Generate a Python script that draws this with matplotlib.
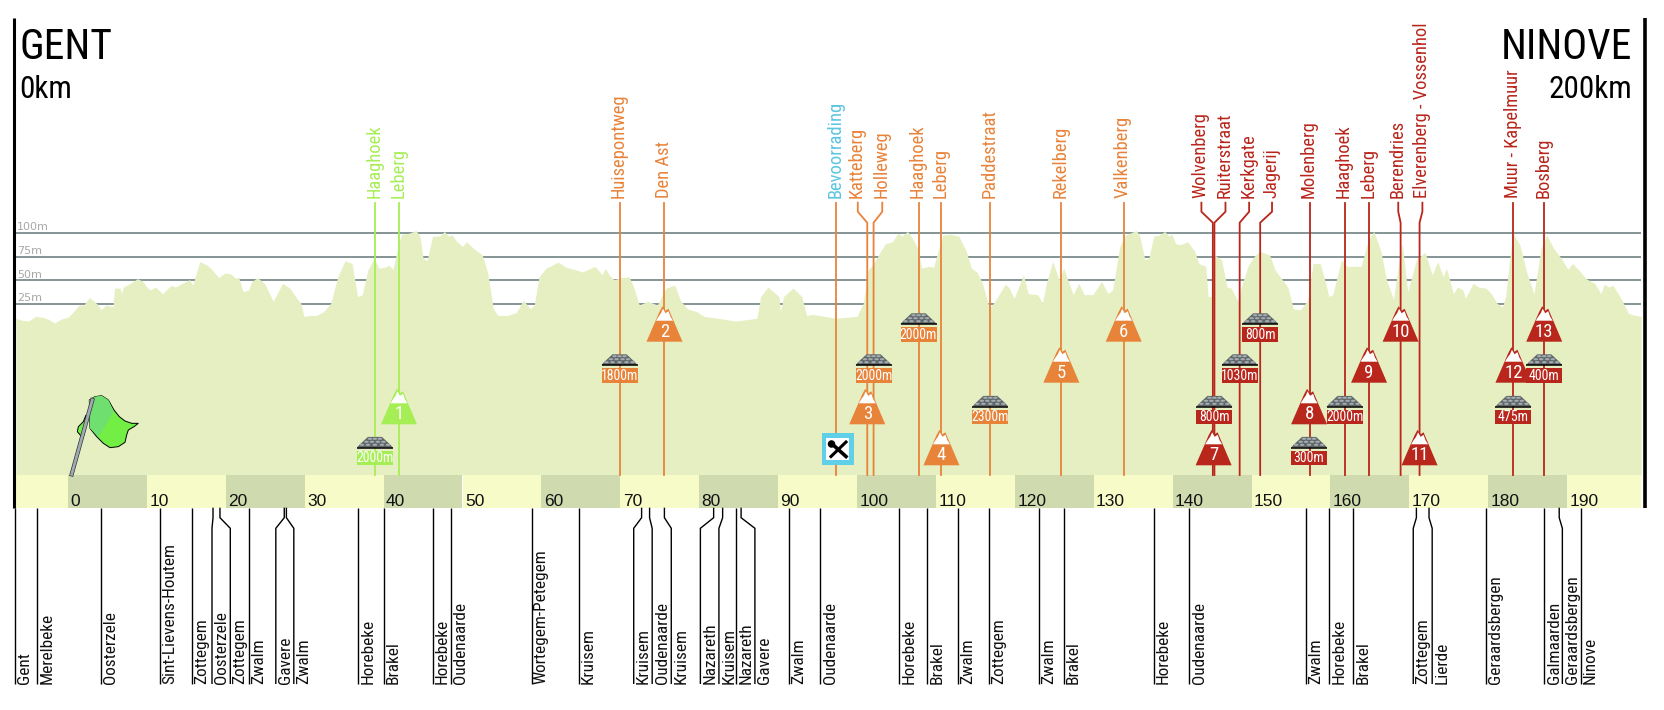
import matplotlib
matplotlib.use('Agg')
import matplotlib.pyplot as plt
from matplotlib.patches import Polygon, Rectangle, Ellipse

# elevation profile, km along the route and height in metres
prof_km = [-6.6, -5.9, -5.0, -4.1, -3.2, -2.5, -1.7, -0.9, 0, 0.7, 1.4, 2.0, 2.7, 3.3, 3.7, 4.2, 4.8, 5.7, 5.9, 6.6,
           6.8, 7.0, 7.9, 8.8, 9.5, 10.0, 10.4, 11.1, 12.0, 12.7, 13.1, 13.6, 14.5, 15.4, 15.8, 16.7, 17.7, 18.3, 19.1, 19.9,
           20.6, 21.3, 21.6, 22.2, 22.9, 23.3, 24.0, 24.9, 25.6, 26.0, 27.2, 28.1, 29.0, 29.5, 29.9, 30.8, 31.5, 32.4, 33.3, 34.2,
           35.1, 36.0, 36.7, 37.3, 38.0, 38.8, 39.4, 40.1, 40.7, 41.2, 41.9, 42.3, 43.2, 44.1, 44.6, 45.0, 45.5, 46.2, 47.1, 47.7,
           48.2, 48.7, 49.3, 50.0, 50.5, 51.4, 52.5, 53.2, 53.9, 54.5, 55.7, 56.8, 57.7, 58.6, 59.1, 59.7, 60.6, 62.0, 62.2, 63.1,
           64.5, 65.2, 66.8, 67.7, 68.1, 68.6, 69.2, 70.2, 71.1, 71.7, 72.4, 73.5, 74.7, 75.4, 75.8, 76.9, 77.6, 78.5, 79.7, 80.6,
           82.4, 84.6, 87.3, 87.8, 88.7, 90.1, 90.3, 90.7, 91.9, 93.0, 93.6, 94.4, 95.9, 97.3, 100.0, 100.8, 101.4, 102.1, 103.0, 103.6,
           104.5, 105.2, 105.7, 106.4, 107.0, 107.7, 108.2, 109.1, 109.7, 110.2, 110.9, 111.8, 112.9, 113.8, 114.5, 115.2, 115.9, 116.8, 117.7, 118.8,
           119.3, 119.9, 121.1, 121.7, 122.9, 123.5, 124.0, 124.8, 125.6, 126.2, 126.7, 127.4, 128.1, 128.8, 129.9, 131.0, 131.8, 132.4, 133.3, 134.0,
           135.4, 135.8, 136.5, 137.0, 137.6, 138.3, 139.0, 139.5, 139.9, 140.4, 141.0, 141.9, 142.8, 143.3, 144.2, 144.5, 144.9, 145.3, 146.2, 146.9,
           147.4, 148.3, 148.7, 149.6, 150.3, 151.0, 152.3, 153.0, 154.6, 155.3, 156.2, 157.1, 157.8, 158.7, 159.4, 159.8, 160.3, 161.4, 162.1, 163.9,
           164.8, 165.5, 166.4, 167.1, 168.0, 168.6, 169.1, 169.8, 170.9, 172.0, 172.9, 173.6, 174.3, 174.7, 175.6, 176.1, 176.8, 177.1, 178.1, 178.8,
           179.7, 180.4, 181.1, 181.8, 182.2, 183.1, 184.0, 184.9, 185.8, 186.7, 187.4, 188.3, 189.2, 190.1, 190.7, 191.7, 192.4, 193.5, 194.3, 194.7,
           195.3, 195.8, 196.7, 197.8, 198.7, 199.4]
prof_m = [10, 8, 7, 12, 11, 9, 5, 9, 11, 17, 24, 24, 32, 28, 25, 19, 24, 22, 42, 42,
          36, 43, 47, 52, 49, 43, 40, 43, 36, 42, 45, 43, 47, 51, 45, 70, 66, 61, 53, 58,
          57, 52, 54, 38, 40, 49, 53, 47, 35, 28, 47, 42, 31, 26, 12, 13, 13, 17, 26, 54,
          71, 68, 33, 35, 61, 74, 63, 64, 66, 62, 89, 99, 100, 103, 97, 74, 71, 97, 97, 102,
          97, 98, 91, 86, 91, 84, 77, 58, 20, 13, 13, 16, 29, 20, 24, 54, 63, 69, 69, 64,
          61, 59, 65, 56, 63, 56, 51, 53, 54, 43, 24, 28, 24, 36, 42, 45, 29, 20, 17, 12,
          10, 7, 10, 33, 43, 33, 17, 33, 42, 33, 13, 14, 12, 10, 12, 26, 61, 68, 81, 89,
          91, 100, 97, 102, 95, 84, 63, 65, 64, 79, 98, 99, 97, 82, 63, 59, 47, 20, 31, 46,
          42, 31, 56, 36, 35, 26, 47, 70, 51, 63, 51, 35, 47, 35, 35, 49, 36, 40, 86, 98,
          103, 98, 72, 74, 97, 98, 102, 97, 99, 89, 88, 91, 81, 68, 65, 33, 33, 77, 72, 43,
          42, 28, 43, 66, 75, 81, 77, 61, 43, 20, 19, 29, 68, 68, 47, 33, 35, 72, 65, 65,
          93, 102, 81, 51, 30, 65, 89, 38, 72, 80, 56, 70, 54, 63, 36, 43, 40, 31, 47, 43,
          42, 36, 26, 22, 33, 100, 88, 58, 36, 84, 98, 84, 74, 62, 68, 59, 52, 47, 36, 46,
          43, 45, 33, 15, 13, 12]

grid_m = [25, 50, 75, 100]
grid_labels = ['25m', '50m', '75m', '100m']
km_ticks = list(range(0, 200, 10))

# climbs and cobbles: name, km of the label, km of the line
green_names = ['Haaghoek', 'Leberg']
green_label_km = [38.9, 41.95]
green_line_km = [38.9, 41.95]
orange_names = ['Huisepontweg', 'Den Ast', 'Katteberg', 'Holleweg', 'Haaghoek', 'Leberg', 'Paddestraat', 'Rekelberg', 'Valkenberg']
orange_label_km = [69.9, 75.6, 100.1, 103.2, 107.8, 110.7, 116.9, 125.9, 133.8]
orange_line_km = [69.9, 75.6, 101.3, 102.1, 107.8, 110.7, 116.9, 125.9, 133.8]
red_names = ['Wolvenberg', 'Ruiterstraat', 'Kerkgate', 'Jagerij', 'Molenberg', 'Haaghoek', 'Leberg', 'Berendries',
             'Elverenberg - Vossenhol', 'Muur - Kapelmuur', 'Bosberg']
red_label_km = [143.65, 146.7, 149.7, 152.6, 157.4, 161.8, 164.9, 168.6, 171.66, 183.2, 187.1]
red_line_km = [145.1, 145.3, 148.5, 151.1, 157.4, 161.8, 164.9, 168.9, 171.3, 183.2, 187.1]
feed_name = 'Bevoorrading'
feed_km = 97.4

climb_km = [41.95, 75.6, 101.3, 110.7, 125.9, 133.8, 145.2, 157.3, 164.9, 168.9, 171.3, 183.2, 187.1]
climb_row = [2, 0, 2, 3, 1, 0, 3, 2, 1, 0, 3, 1, 0]
climb_group = ['g', 'o', 'o', 'o', 'o', 'o', 'r', 'r', 'r', 'r', 'r', 'r', 'r']

cobble_km = [38.9, 69.9, 102.1, 107.8, 116.9, 145.3, 148.5, 151.1, 157.3, 161.8, 183.2, 187.1]
cobble_row = [3, 1, 1, 0, 2, 2, 1, 0, 3, 2, 2, 1]
cobble_len = ['2000m', '1800m', '2000m', '2000m', '2300m', '800m', '1030m', '800m', '300m', '2000m', '475m', '400m']
cobble_group = ['g', 'o', 'o', 'o', 'o', 'r', 'r', 'r', 'r', 'r', 'r', 'r']

# towns under the route, km at the band and km at the label
town_names = ['Gent', 'Merelbeke', 'Oosterzele', 'Sint-Lievens-Houtem', 'Zottegem', 'Oosterzele', 'Zottegem', 'Zwalm',
              'Gavere', 'Zwalm', 'Horebeke', 'Brakel', 'Horebeke', 'Oudenaarde', 'Wortegem-Petegem', 'Kruisem',
              'Kruisem', 'Oudenaarde', 'Kruisem', 'Nazareth', 'Kruisem', 'Nazareth', 'Gavere', 'Zwalm', 'Oudenaarde',
              'Horebeke', 'Brakel', 'Zwalm', 'Zottegem', 'Zwalm', 'Brakel', 'Horebeke', 'Oudenaarde', 'Zwalm',
              'Horebeke', 'Brakel', 'Zottegem', 'Lierde', 'Geraardsbergen', 'Galmaarden', 'Geraardsbergen', 'Ninove']
town_top_km = [-6.74, -3.93, 4.13, 11.66, 15.72, 18.38, 19.26, 22.92, 27.41, 27.68, 36.81, 40.02, 46.2, 48.48, 58.75, 64.71,
               72.7, 73.71, 75.59, 81.83, 82.97, 84.71, 85.31, 91.36, 95.37, 105.3, 108.9, 112.8, 116.7, 123.1, 126.2,
               137.6, 142.1, 156.9, 159.8, 162.9, 170.9, 172.5, 179.7, 187.1, 189.0, 191.7]
town_low_km = [-6.74, -3.93, 4.13, 11.66, 15.72, 18.25, 20.57, 22.92, 26.34, 28.62, 36.81, 40.02, 46.2, 48.48, 58.75, 64.71,
               71.7, 74.04, 76.46, 80.15, 82.5, 84.71, 87.06, 91.36, 95.37, 105.3, 108.9, 112.8, 116.7, 123.1, 126.2,
               137.6, 142.1, 156.9, 159.8, 162.9, 170.5, 172.9, 179.7, 187.1, 189.4, 191.7]

GREEN, ORANGE, RED = '#A6EE55', '#E8833A', '#B8261C'
colors = {'g': GREEN, 'o': ORANGE, 'r': RED}
NARROW = ['Roboto Condensed', 'Liberation Sans', 'DejaVu Sans']

W, H = 1664, 710
X0, PX_KM = 68.0, 7.89    # pixel of km 0, pixels per km
Y0, PX_M = 327.7, 0.944   # pixel of 0 m, pixels per metre


def kx(px):
    return (px - X0) / PX_KM


def me(py):
    return (Y0 - py) / PX_M


fig = plt.figure(figsize=(W / 100, H / 100), dpi=100)
ax = fig.add_axes([0, 0, 1, 1])
ax.set_xlim(kx(0), kx(W))
ax.set_ylim(me(H), me(0))
ax.axis('off')

band_top, band_low = me(475), me(507.7)
left_km, right_km = kx(16), kx(1641)
row_base = [341.7, 382.7, 424.3, 465.3]

# height grid and profile
ax.hlines(grid_m, left_km, right_km, color='#7B8C8C', lw=1.3, zorder=1)
for m, lab in zip(grid_m, grid_labels):
    ax.text(kx(17), m + 1, lab, fontsize=8, color='#A8A8A8', ha='left', va='bottom', zorder=1, family='DejaVu Sans')
ax.fill_between(prof_km, prof_m, band_top, color='#E5EFC1', lw=0, zorder=2)

# km band
ax.bar([left_km], band_low - band_top, km_ticks[0] - left_km, band_top, align='edge', color='#F6FBC8', zorder=3)
for k in km_ticks:
    c = '#CFDAAE' if k % 20 == 0 else '#F6FBC8'
    end = min(k + 10, right_km)
    ax.bar([k], band_low - band_top, end - k, band_top, align='edge', color=c, zorder=3)
    ax.text(k + 0.3, me(505.5), str(k), fontsize=12.5, ha='left', va='baseline', color='#111111',
            family='Liberation Sans', zorder=4)

# side bars and start/finish
ax.plot([kx(14), kx(14)], [me(18), band_low], color='black', lw=2.2, solid_capstyle='butt', zorder=6)
ax.plot([kx(1645), kx(1645)], [me(18), band_low], color='black', lw=2.6, solid_capstyle='butt', zorder=6)
ax.text(kx(20), me(59), 'GENT', fontsize=30, family=NARROW, ha='left', va='baseline', color='black')
ax.text(kx(19), me(98), '0km', fontsize=22.5, family=NARROW, ha='left', va='baseline', color='black')
ax.text(kx(1632), me(59), 'NINOVE', fontsize=30, family=NARROW, ha='right', va='baseline', color='black')
ax.text(kx(1632), me(98), '200km', fontsize=22.5, family=NARROW, ha='right', va='baseline', color='black')


def climb_line(label_km, line_km, color, name, txt_color=None):
    ys = [me(202.7), me(211.7), me(222.7), band_top]
    ax.plot([label_km, label_km, line_km, line_km], ys, color=color, lw=1.3, zorder=4, solid_joinstyle='miter')
    ax.text(label_km - 0.1, me(198), name, rotation=90, fontsize=13.3, family=NARROW, ha='center', va='bottom',
            color=txt_color or color, zorder=6)


for n, a, b in zip(green_names, green_label_km, green_line_km):
    climb_line(a, b, GREEN, n)
for n, a, b in zip(orange_names, orange_label_km, orange_line_km):
    climb_line(a, b, ORANGE, n)
for n, a, b in zip(red_names, red_label_km, red_line_km):
    climb_line(a, b, RED, n)
climb_line(feed_km, feed_km, ORANGE, feed_name, '#5BC5DF')


def mountain(km, row, color, num):
    cx = X0 + km * PX_KM
    base = row_base[row]
    outer = [(-18, 0), (-5, 30), (-2, 35.5), (1, 31), (4, 33), (6.5, 27), (18, 0)]
    cap = [(-8.5, 21), (-6, 25), (-3.5, 28.5), (-1.5, 33), (1, 28.5), (4, 30.5), (6, 25), (8.5, 21)]
    ax.add_patch(Polygon([(kx(cx + x), me(base - y)) for x, y in outer], fc=color, ec='none', zorder=5))
    ax.add_patch(Polygon([(kx(cx + x), me(base - y)) for x, y in cap], fc='white', ec='none', zorder=5))
    ax.text(kx(cx), me(base - 10), str(num), fontsize=13.5, color='white', family=NARROW, ha='center', va='center', zorder=6)


def cobbles(km, row, color, length):
    cx = X0 + km * PX_KM
    base = row_base[row]
    ax.add_patch(Rectangle((kx(cx - 18), me(base)), 36 / PX_KM, 14.4 / PX_M, fc=color, ec='none', zorder=5))
    ax.text(kx(cx), me(base - 7), length, fontsize=10, color='white', family=NARROW, ha='center', va='center', zorder=6)
    dome = [(-18, 17.7), (-15, 21), (-7, 28.4), (7, 28.4), (15, 21), (18, 17.7)]
    ax.add_patch(Polygon([(kx(cx + x), me(base - y)) for x, y in dome], fc='#5E6669', ec='none', zorder=5))
    for y, xs in [(26.5, [-5, 0, 5]), (23.5, [-8.5, -3, 3, 8.5]), (20.5, [-13, -7, 0, 7, 13])]:
        for x in xs:
            ax.add_patch(Ellipse((kx(cx + x), me(base - y)), 4.6 / PX_KM, 2.2 / PX_M, fc='#A4ACAF', ec='none', zorder=5))
    ax.plot([kx(cx - 18), kx(cx + 18)], [me(base - 17.2), me(base - 17.2)], color='black', lw=1.1, solid_capstyle='butt', zorder=5)


for i, (k, r, g) in enumerate(zip(climb_km, climb_row, climb_group)):
    mountain(k, r, colors[g], i + 1)
for k, r, g, s in zip(cobble_km, cobble_row, cobble_group, cobble_len):
    cobbles(k, r, colors[g], s)

# feed zone sign
ax.add_patch(Rectangle((kx(821.7), me(465)), 32.3 / PX_KM, 31.7 / PX_M, fc='#5FD0E8', ec='none', zorder=5))
ax.add_patch(Rectangle((kx(826), me(460)), 23.3 / PX_KM, 22.3 / PX_M, fc='white', ec='none', zorder=5))
ax.plot([kx(831), kx(846)], [me(443), me(456.5)], color='black', lw=2.6, zorder=6)
ax.plot([kx(846), kx(831)], [me(442), me(456.5)], color='black', lw=2.2, zorder=6)
ax.add_patch(Ellipse((kx(831.5), me(444)), 7.5 / PX_KM, 7.5 / PX_M, fc='black', ec='none', zorder=6))

# start flag
fx = lambda x: kx(60 + x / 3)
fy = lambda y: me(385 + y / 3)
back = [(78, 90), (70, 110), (55, 125), (52, 140), (65, 155), (73, 130)]
flag = [(88, 45), (105, 35), (125, 32), (145, 45), (162, 75), (178, 95), (195, 108), (215, 115), (235, 115), (222, 125),
        (205, 135), (200, 150), (195, 172), (175, 185), (150, 188), (130, 175), (110, 155), (90, 130)]
light = [(88, 45), (105, 35), (125, 32), (145, 45), (162, 80), (115, 155), (90, 130)]
for pts, c, e in [(back, '#72EE44', 'black'), (flag, '#72EE44', 'black'), (light, '#6FE070', 'none')]:
    ax.add_patch(Polygon([(fx(x), fy(y)) for x, y in pts], fc=c, ec=e, lw=0.7, zorder=5))
ax.plot([fx(35), fx(97)], [fy(268), fy(45)], color='#333333', lw=3.0, zorder=5)
ax.plot([fx(35), fx(97)], [fy(268), fy(45)], color='#A0AAB4', lw=2.0, zorder=5)

# town lines and names under the band
for name, top, low in zip(town_names, town_top_km, town_low_km):
    ax.plot([top, top, low, low], [band_low, me(517.7), me(528.3), me(684)], color='black', lw=1.0,
            solid_joinstyle='miter', solid_capstyle='butt', zorder=4)
    ax.text(low + 0.3, me(683.5), name, rotation=90, fontsize=12.4, family=NARROW, ha='left', va='bottom',
            color='#111111', zorder=6)

fig.savefig('out.png', dpi=100, facecolor='white')
